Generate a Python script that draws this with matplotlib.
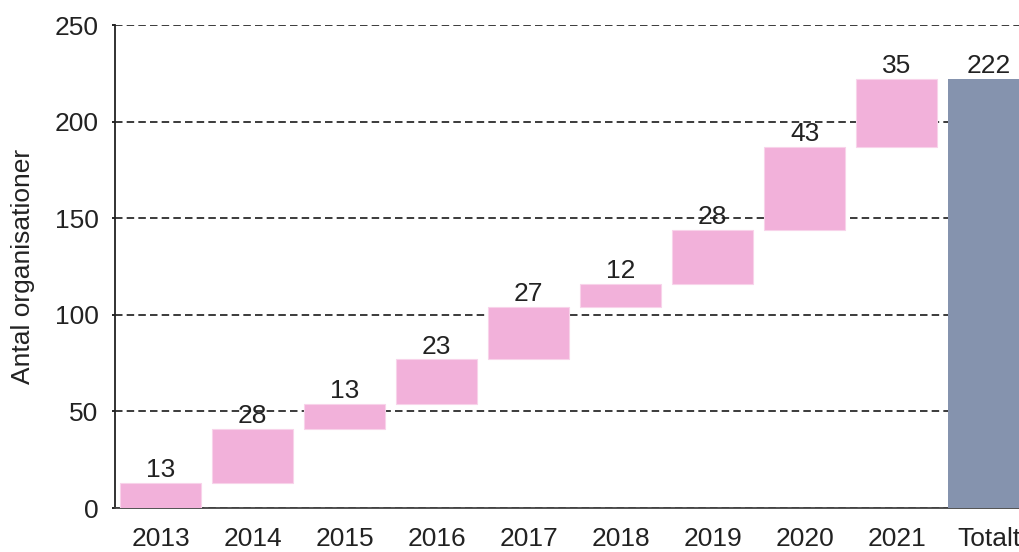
import numpy as np
import matplotlib.pyplot as plt

plt.rcParams['font.family'] = ['Liberation Sans', 'DejaVu Sans']

# data
years = ['2013', '2014', '2015', '2016', '2017', '2018', '2019', '2020', '2021']
increments = [13, 28, 13, 23, 27, 12, 28, 43, 35]
total_label = 'Totalt'
total_value = 222

pink = '#F2B1DA'
total_color = '#8593AE'
fs = 19

fig = plt.figure(figsize=(10.19, 5.52), dpi=100)
ax = fig.add_axes([0.1129, 0.0797, 0.887, 0.875])

bottoms = np.concatenate([[0], np.cumsum(increments)[:-1]])
x = np.arange(len(years))
ax.bar(x, increments, bottom=bottoms, width=0.88, color=pink,
       edgecolor='#F8D3EA', linewidth=0.8, zorder=3)
ax.bar(len(years), total_value, width=0.88, color=total_color, zorder=3)

# value labels
for xi, b, v in zip(x, bottoms, increments):
    ax.annotate(str(v), (xi, b + v), xytext=(0, 0.5), textcoords='offset points',
                ha='center', va='bottom', fontsize=fs, color='#222222', zorder=4)
ax.annotate(str(total_value), (len(years), total_value), xytext=(0, 0.5),
            textcoords='offset points', ha='center', va='bottom',
            fontsize=fs, color='#222222', zorder=4)

ax.set_xticks(list(x) + [len(years)])
ax.set_xticklabels(years + [total_label])
ax.set_xlim(-0.495, 9.33)
ax.set_ylim(0, 250)
ax.set_yticks([0, 50, 100, 150, 200, 250])

ax.yaxis.grid(True, linestyle=(0, (4.5, 2.5)), color='#1a1a1a', linewidth=1.2, zorder=0)
ax.set_axisbelow(True)
ax.spines['top'].set_visible(False)
ax.spines['right'].set_visible(False)
ax.spines['left'].set_linewidth(1.3)
ax.spines['left'].set_color('#222222')
ax.spines['bottom'].set_linewidth(1.3)
ax.spines['bottom'].set_color('#444444')
ax.tick_params(axis='x', length=0, pad=14, labelsize=fs, labelcolor='#222222')
ax.tick_params(axis='y', length=2, width=1.2, pad=10, labelsize=fs, labelcolor='#222222')

ax.set_ylabel('Antal organisationer', fontsize=fs, color='#222222', labelpad=14)

fig.savefig('out.png', dpi=100)
